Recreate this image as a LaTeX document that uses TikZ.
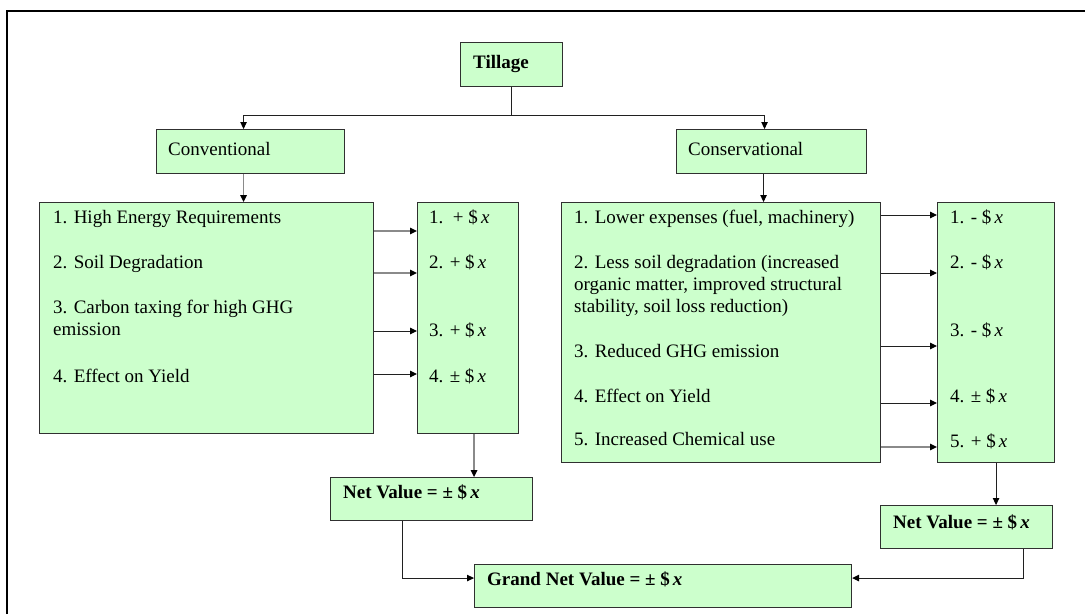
\documentclass[tikz,border=0pt]{standalone}
\usepackage{fontspec}
\setmainfont{Liberation Serif}
\usetikzlibrary{arrows.meta}
\definecolor{boxfill}{HTML}{CCFFCC}
\definecolor{boxedge}{HTML}{303030}
\definecolor{linkdark}{HTML}{202020}
\definecolor{linkgray}{HTML}{8A8A8A}
\tikzset{
  box/.style={draw=boxedge, fill=boxfill, line width=1.1pt, inner sep=0pt, anchor=north west},
  txt/.style={anchor=base west, inner sep=0pt, font=\fontsize{19pt}{21.5pt}\selectfont},
  btxt/.style={anchor=base west, inner sep=0pt, font=\fontsize{19pt}{21.5pt}\selectfont\bfseries},
  link/.style={draw=linkdark, line width=1pt, -{Triangle[length=7pt,width=6.5pt,color=black]}},
  linkg/.style={link, draw=linkgray, line width=1.5pt},
  plain/.style={draw=linkdark, line width=1pt},
}
\newcommand{\dollx}{\$\,\textit{x}}
\begin{document}
\begin{tikzpicture}[x=1pt, y=-1pt]
\useasboundingbox (0,0) rectangle (1085,614);

% outer frame (left and top edges)
\draw[line width=2pt] (7,614) -- (7,11) -- (1085,11);

% boxes
\node[box, minimum width=102pt, minimum height=44pt] (till) at (460,42) {};
\node[box, minimum width=188pt, minimum height=44pt] (conv) at (156,129) {};
\node[box, minimum width=190pt, minimum height=44pt] (cons) at (676,129) {};
\node[box, minimum width=334pt, minimum height=231pt] (convList) at (39,202) {};
\node[box, minimum width=101pt, minimum height=231pt] (convVal) at (417,202) {};
\node[box, minimum width=319pt, minimum height=260pt] (consList) at (561,202) {};
\node[box, minimum width=117pt, minimum height=260pt] (consVal) at (937,202) {};
\node[box, minimum width=202pt, minimum height=43pt] (netL) at (330,477) {};
\node[box, minimum width=172pt, minimum height=43pt] (netR) at (880,505) {};
\node[box, minimum width=377pt, minimum height=43pt] (grand) at (474,564) {};

% box texts
\node[btxt] (tTill) at (473,68) {Tillage};
\node[txt] (tConv) at (168,155) {Conventional};
\node[txt] (tCons) at (688,155) {Conservational};

\node[txt] (cl1) at (53,223) {1. High Energy Requirements};
\node[txt] (cl2) at (53,268) {2. Soil Degradation};
\node[txt] (cl3a) at (53,313) {3. Carbon taxing for high GHG};
\node[txt] (cl3b) at (53,335) {emission};
\node[txt] (cl4) at (53,382) {4. Effect on Yield};

\node[txt] (cv1) at (429,223) {1.\ \ + \dollx};
\node[txt] (cv2) at (429,268) {2. + \dollx};
\node[txt] (cv3) at (429,336) {3. + \dollx};
\node[txt] (cv4) at (429,382) {4. ± \dollx};

\node[txt] (sl1) at (574,223) {1. Lower expenses (fuel, machinery)};
\node[txt] (sl2a) at (574,268) {2. Less soil degradation (increased};
\node[txt] (sl2b) at (574,290) {organic matter, improved structural};
\node[txt] (sl2c) at (574,312) {stability, soil loss reduction)};
\node[txt] (sl3) at (574,357) {3. Reduced GHG emission};
\node[txt] (sl4) at (574,402) {4. Effect on Yield};
\node[txt] (sl5) at (574,445) {5. Increased Chemical use};

\node[txt] (sv1) at (950,223) {1. - \dollx};
\node[txt] (sv2) at (950,268) {2. - \dollx};
\node[txt] (sv3) at (950,336) {3. - \dollx};
\node[txt] (sv4) at (950,402) {4. ± \dollx};
\node[txt] (sv5) at (950,447) {5. + \dollx};

\node[btxt] (tNetL) at (343,498) {Net Value = ± \dollx};
\node[btxt] (tNetR) at (893,528) {Net Value = ± \dollx};
\node[btxt] (tGrand) at (487,585) {Grand Net Value = ± \dollx};

% tillage split
\coordinate (split) at (till.south |- 0,115);
\draw[plain] (till.south) -- (split);
\draw[link] (split) -| ([xshift=-7pt]conv.north);
\draw[link] (split) -| ([xshift=-7pt]cons.north);

% options down to their lists
\draw[linkg] ([xshift=-7pt]conv.south) -- ([xshift=-7pt]conv.south |- convList.north);
\draw[link] ([xshift=-8pt]cons.south) -- ([xshift=-8pt]cons.south |- consList.north);

% conventional items to values
\draw[linkg] (convList.east |- 0,231) -- (convVal.west |- 0,231);
\draw[linkg] (convList.east |- 0,273) -- (convVal.west |- 0,273);
\draw[link] (convList.east |- 0,331) -- (convVal.west |- 0,331);
\draw[link] (convList.east |- 0,374) -- (convVal.west |- 0,374);

% conservational items to values
\draw[link] (consList.east |- 0,215) -- (consVal.west |- 0,215);
\draw[link] (consList.east |- 0,273) -- (consVal.west |- 0,273);
\draw[link] (consList.east |- 0,346) -- (consVal.west |- 0,346);
\draw[link] (consList.east |- 0,403) -- (consVal.west |- 0,403);
\draw[linkg] (consList.east |- 0,447) -- (consVal.west |- 0,447);

% values to net values
\draw[linkg] ([xshift=6pt]convVal.south) -- ([xshift=6pt]convVal.south |- netL.north);
\draw[link] (consVal.south) -- (consVal.south |- netR.north);

% net values to grand net value
\draw[link] ([xshift=-29pt]netL.south) |- ([yshift=8pt]grand.west);
\draw[link] ([xshift=57pt]netR.south) |- ([yshift=8pt]grand.east);
\end{tikzpicture}
\end{document}
